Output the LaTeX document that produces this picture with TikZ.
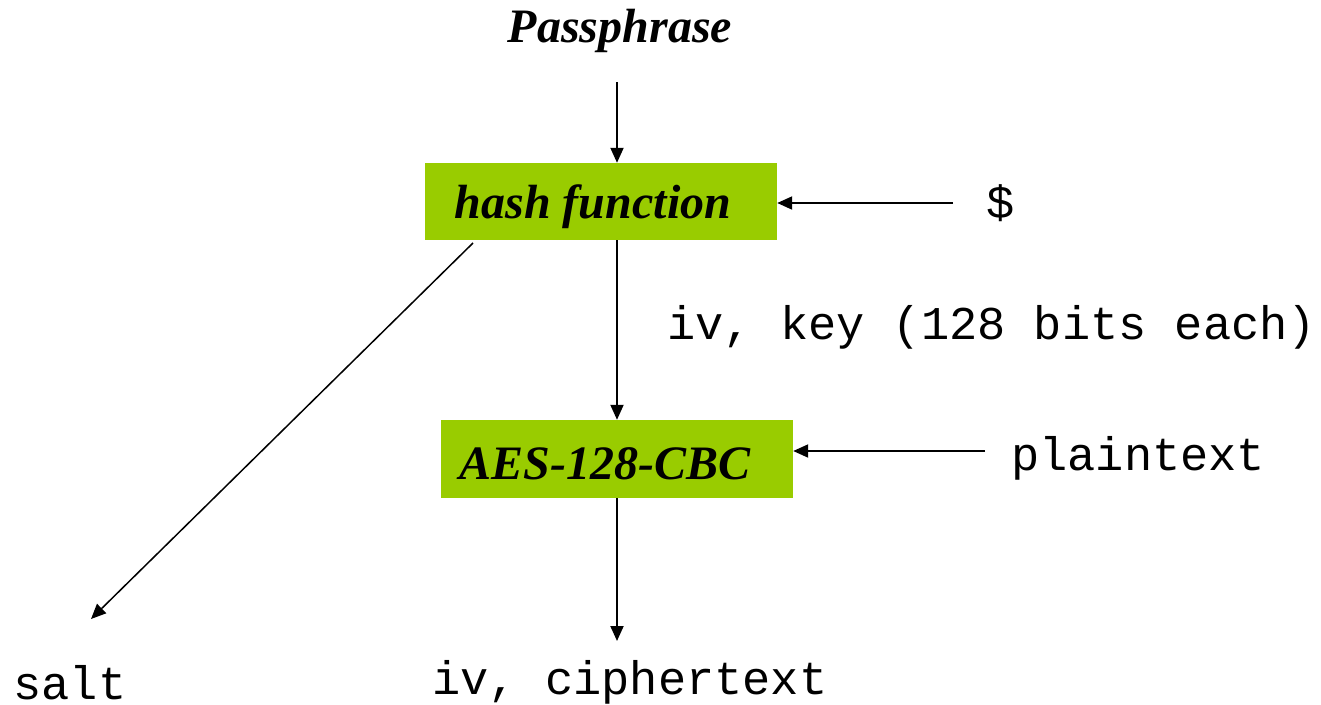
\documentclass[tikz,border=0pt]{standalone}
\usepackage{fontspec}
\setmainfont{Liberation Serif}
\setmonofont{Liberation Mono}
\usetikzlibrary{arrows.meta}
\definecolor{boxgreen}{HTML}{99CC00}
\begin{document}
\begin{tikzpicture}[x=1pt,y=-1pt,
  lbl/.style={font=\fontsize{48}{56}\selectfont\bfseries\itshape, inner sep=0pt},
  mono/.style={font=\fontsize{47}{56}\selectfont\ttfamily, inner sep=0pt},
  gbox/.style={fill=boxgreen, inner sep=0pt, font=\fontsize{48}{56}\selectfont\bfseries\itshape},
  conn/.style={line width=2pt, -{Triangle[length=15pt,width=13pt]}}]
\useasboundingbox (0,0) rectangle (1321,704);
% nodes
\node[lbl] (pass) at (620,31) {Passphrase};
\node[gbox, minimum width=352pt, minimum height=77pt] (hash) at (601,201.5) {};
\node[lbl] (hashtxt) at (593,207) {hash function};
\node[gbox, minimum width=352pt, minimum height=78pt] (aes) at (617,459) {};
\node[lbl] (aestxt) at (605,464) {AES-128-CBC};
\node[mono] (dollar) at (1001,203) {\$};
\node[mono, anchor=west] (ivkey) at (667,327) {iv, key (128 bits each)};
\node[mono, anchor=west] (plain) at (1011,458) {plaintext};
\node[mono] (salt) at (70,683) {salt};
\node[mono] (ivct) at (630,682) {iv, ciphertext};
% free ends
\coordinate (passend) at (617,82);
\coordinate (dollarend) at (953,203);
\coordinate (plainend) at (985,451);
\coordinate (saltstart) at (473,243);
\coordinate (saltend) at (91,619);
\coordinate (ctend) at (617,641);
% connectors
\draw[conn] (passend) -- (hash.north -| passend);
\draw[conn] (hash.south -| passend) -- (aes.north -| passend);
\draw[conn] (dollarend) -- (hash.east |- dollarend);
\draw[conn] (plainend) -- (aes.east |- plainend);
\draw[conn] (aes.south -| ctend) -- (ctend);
\draw[conn, line width=1.5pt] (saltstart) -- (saltend);
\end{tikzpicture}
\end{document}
